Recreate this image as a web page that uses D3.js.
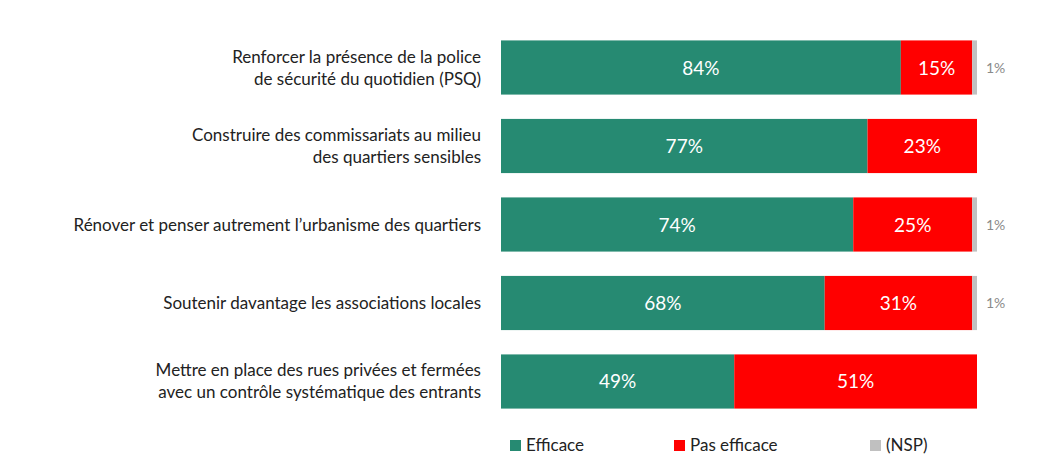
<!DOCTYPE html>
<html><head><meta charset="utf-8">
<script src="https://cdn.jsdelivr.net/npm/d3@7"></script>
<style>body{margin:0;background:#fff;font-family:Lato,"Open Sans",sans-serif}</style>
</head><body><div id="content"></div>
<script>
const width = 1053, height = 476;

const categories = [
  ["Renforcer la présence de la police", "de sécurité du quotidien (PSQ)"],
  ["Construire des commissariats au milieu", "des quartiers sensibles"],
  ["Rénover et penser autrement l’urbanisme des quartiers"],
  ["Soutenir davantage les associations locales"],
  ["Mettre en place des rues privées et fermées", "avec un contrôle systématique des entrants"]
];
const efficace = [84, 77, 74, 68, 49];
const pasEfficace = [15, 23, 25, 31, 51];
const nsp = [1, 0, 1, 1, 0];
const seriesNames = ["Efficace", "Pas efficace", "(NSP)"];
const colors = ["#268a72", "#ff0000", "#c0c0c0"];

var svg = d3.select("#content").append("svg").attr("width", width).attr("height", height);

var x = d3.scaleLinear().domain([0, 100]).range([501, 977]);
var y = d3.scaleBand().domain(d3.range(categories.length)).range([31, 418]).paddingInner(0.31).paddingOuter(0.12);

categories.forEach((lines, i) => {
  var vals = [efficace[i], pasEfficace[i], nsp[i]];
  var cum = 0;
  var yc = y(i) + y.bandwidth() / 2;
  vals.forEach((v, j) => {
    if (v > 0) {
      svg.append("rect").attr("x", x(cum)).attr("y", y(i))
        .attr("width", x(cum + v) - x(cum)).attr("height", y.bandwidth())
        .attr("fill", colors[j]);
      if (j < 2) {
        svg.append("text").attr("x", (x(cum) + x(cum + v)) / 2).attr("y", yc + 7)
          .attr("text-anchor", "middle").attr("fill", "#fff").attr("font-size", 19).text(v + "%");
      } else {
        svg.append("text").attr("x", x(cum + v) + 9).attr("y", yc + 5)
          .attr("fill", "#8a8a8a").attr("font-size", 14).text(v + "%");
      }
    }
    cum += v;
  });
  var t = svg.append("text").attr("text-anchor", "end").attr("font-size", 17).attr("fill", "#222");
  var y0 = yc - (lines.length - 1) * 11 + 6;
  lines.forEach((l, k) => t.append("tspan").attr("x", 481).attr("y", y0 + k * 22).text(l));
});

var lx = [510, 674, 870];
seriesNames.forEach((s, j) => {
  svg.append("rect").attr("x", lx[j]).attr("y", 440).attr("width", 11).attr("height", 11).attr("fill", colors[j]);
  svg.append("text").attr("x", lx[j] + 16).attr("y", 451).attr("font-size", 17).attr("fill", "#222").text(s);
});
</script></body></html>
